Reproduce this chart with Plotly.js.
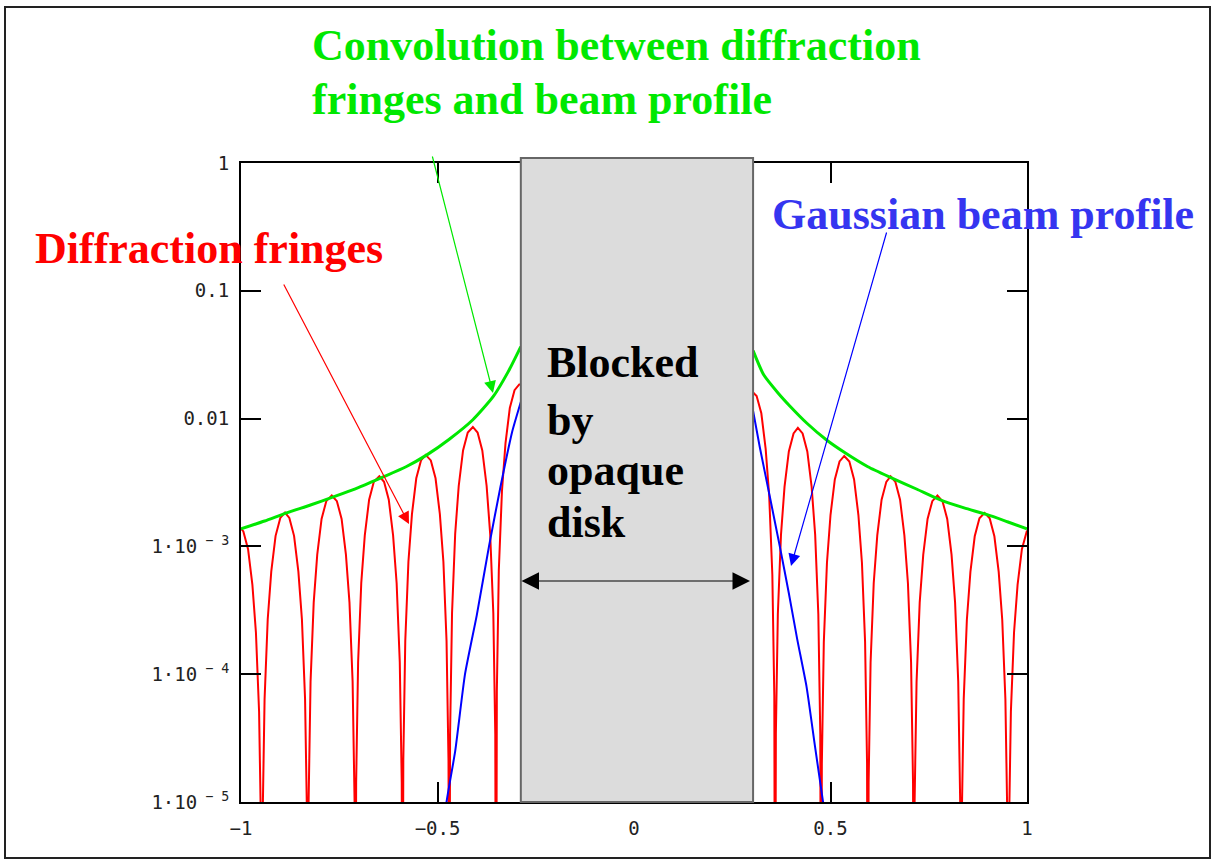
<!DOCTYPE html>
<html>
<head>
<meta charset="utf-8">
<script src="https://cdn.plot.ly/plotly-3.0.1.min.js"></script>
<style>html,body{margin:0;padding:0;background:#fff;}#chart{width:1214px;height:862px;}</style>
</head>
<body>
<div id="chart"></div>
<script>
// ---- data ----
const fringeLeftX = [
  -1.000, -0.994, -0.982, -0.971, -0.962, -0.954, -0.949,
  -0.947, -0.945, -0.940, -0.932, -0.923, -0.912, -0.900, -0.888, -0.877, -0.865, -0.854, -0.845, -0.837, -0.832,
  -0.830, -0.828, -0.823, -0.815, -0.806, -0.795, -0.783, -0.769, -0.756, -0.744, -0.733, -0.724, -0.716, -0.711,
  -0.709, -0.707, -0.702, -0.694, -0.685, -0.674, -0.662, -0.648, -0.636, -0.624, -0.613, -0.604, -0.596, -0.591,
  -0.589, -0.587, -0.582, -0.574, -0.565, -0.554, -0.542, -0.530, -0.517, -0.505, -0.494, -0.485, -0.477, -0.472,
  -0.470, -0.468, -0.463, -0.455, -0.446, -0.435, -0.423, -0.410, -0.398, -0.386, -0.375, -0.366, -0.358, -0.353,
  -0.351, -0.349, -0.344, -0.336, -0.327, -0.316, -0.304, -0.292, -0.288
];
const fringeLeftY = [
  1.38e-3, 1.31e-3, 9.5e-4, 5.0e-4, 2.12e-4, 5.1e-5, 5.8e-6,
  1e-7, 7.4e-6, 6.4e-5, 2.69e-4, 6.35e-4, 1.21e-3, 1.67e-3, 1.84e-3, 1.67e-3, 1.21e-3, 6.35e-4, 2.69e-4, 6.4e-5, 7.4e-6,
  1e-7, 1.0e-5, 8.75e-5, 3.65e-4, 8.63e-4, 1.64e-3, 2.26e-3, 2.5e-3, 2.26e-3, 1.64e-3, 8.63e-4, 3.65e-4, 8.75e-5, 1.0e-5,
  1e-7, 1.42e-5, 1.24e-4, 5.17e-4, 1.22e-3, 2.32e-3, 3.2e-3, 3.54e-3, 3.2e-3, 2.32e-3, 1.22e-3, 5.17e-4, 1.24e-4, 1.42e-5,
  1e-7, 2.1e-5, 1.82e-4, 7.59e-4, 1.79e-3, 3.41e-3, 4.71e-3, 5.2e-3, 4.71e-3, 3.41e-3, 1.79e-3, 7.59e-4, 1.82e-4, 2.1e-5,
  1e-7, 3.4e-5, 3.01e-4, 1.26e-3, 2.97e-3, 5.63e-3, 7.78e-3, 8.6e-3, 7.78e-3, 5.63e-3, 2.97e-3, 1.26e-3, 3.01e-4, 3.4e-5,
  1e-7, 7.4e-5, 6.5e-4, 2.7e-3, 6.4e-3, 1.21e-2, 1.67e-2, 1.85e-2, 1.85e-2
];
const fringeRightX = [
  0.303, 0.312, 0.324, 0.335, 0.344, 0.352, 0.357,
  0.359, 0.361, 0.366, 0.374, 0.383, 0.394, 0.406, 0.417, 0.429, 0.441, 0.452, 0.461, 0.469, 0.474,
  0.476, 0.478, 0.483, 0.491, 0.500, 0.511, 0.523, 0.535, 0.548, 0.560, 0.571, 0.580, 0.588, 0.593,
  0.595, 0.597, 0.602, 0.610, 0.619, 0.630, 0.642, 0.653, 0.665, 0.677, 0.688, 0.697, 0.705, 0.710,
  0.712, 0.714, 0.719, 0.727, 0.736, 0.747, 0.759, 0.772, 0.785, 0.797, 0.808, 0.817, 0.825, 0.830,
  0.832, 0.834, 0.839, 0.847, 0.856, 0.867, 0.879, 0.892, 0.905, 0.917, 0.928, 0.937, 0.945, 0.950,
  0.952, 0.954, 0.959, 0.967, 0.976, 0.987, 0.999, 1.000
];
const fringeRightY = [
  1.6e-2, 1.5e-2, 1.1e-2, 5.8e-3, 2.5e-3, 6.0e-4, 6.8e-5,
  1e-7, 3.4e-5, 2.96e-4, 1.23e-3, 2.92e-3, 5.53e-3, 7.65e-3, 8.45e-3, 7.65e-3, 5.53e-3, 2.92e-3, 1.23e-3, 2.96e-4, 3.4e-5,
  1e-7, 2.0e-5, 1.79e-4, 7.45e-4, 1.76e-3, 3.34e-3, 4.62e-3, 5.1e-3, 4.62e-3, 3.34e-3, 1.76e-3, 7.45e-4, 1.79e-4, 2.0e-5,
  1e-7, 1.42e-5, 1.24e-4, 5.17e-4, 1.22e-3, 2.32e-3, 3.2e-3, 3.54e-3, 3.2e-3, 2.32e-3, 1.22e-3, 5.17e-4, 1.24e-4, 1.42e-5,
  1e-7, 1.0e-5, 8.75e-5, 3.65e-4, 8.63e-4, 1.64e-3, 2.26e-3, 2.5e-3, 2.26e-3, 1.64e-3, 8.63e-4, 3.65e-4, 8.75e-5, 1.0e-5,
  1e-7, 7.3e-6, 6.4e-5, 2.67e-4, 6.31e-4, 1.2e-3, 1.66e-3, 1.83e-3, 1.66e-3, 1.2e-3, 6.31e-4, 2.67e-4, 6.4e-5, 7.3e-6,
  1e-7, 5.8e-6, 5.1e-5, 2.12e-4, 5.0e-4, 9.5e-4, 1.31e-3, 1.33e-3
];
const convLeftX = [-1.0, -0.94, -0.884, -0.825, -0.765, -0.70, -0.638, -0.58, -0.527, -0.47, -0.41, -0.358, -0.32, -0.288];
const convLeftY = [1.37e-3, 1.58e-3, 1.83e-3, 2.1e-3, 2.44e-3, 2.9e-3, 3.5e-3, 4.2e-3, 5.2e-3, 6.9e-3, 9.8e-3, 1.49e-2, 2.33e-2, 3.66e-2];
const convRightX = [0.303, 0.33, 0.367, 0.397, 0.44, 0.49, 0.537, 0.595, 0.655, 0.72, 0.781, 0.84, 0.897, 0.95, 1.0];
const convRightY = [3.4e-2, 2.2e-2, 1.58e-2, 1.25e-2, 9.2e-3, 6.8e-3, 5.4e-3, 4.2e-3, 3.44e-3, 2.8e-3, 2.3e-3, 2.0e-3, 1.78e-3, 1.56e-3, 1.37e-3];
const gaussLeftX = [-0.288, -0.31, -0.34, -0.369, -0.40, -0.43, -0.455, -0.477, -0.49];
const gaussLeftY = [1.35e-2, 7.9e-3, 2.9e-3, 1.0e-3, 2.9e-4, 1.0e-4, 2.5e-5, 1.0e-5, 4e-6];
const gaussRightX = [0.303, 0.32, 0.345, 0.371, 0.394, 0.415, 0.439, 0.46, 0.481, 0.495];
const gaussRightY = [1.15e-2, 6.0e-3, 2.5e-3, 1.0e-3, 4.3e-4, 1.9e-4, 8.0e-5, 2.8e-5, 1.0e-5, 5e-6];
const blockedRange = [-0.288, 0.303];
const xTickVals = [-1, -0.5, 0, 0.5, 1];
const xTickText = ['\u22121', '\u22120.5', '0', '0.5', '1'];
const yTickVals = [1, 0.1, 0.01, 1e-3, 1e-4, 1e-5];
const yTickText = ['1', '0.1', '0.01', '1\u00b710<sup> \u2212 3</sup>', '1\u00b710<sup> \u2212 4</sup>', '1\u00b710<sup> \u2212 5</sup>'];

// ---- layout helpers (pixel -> paper) ----
const L = 241, R = 1027, T = 163, B = 802;
const px = x => (x - L) / (R - L);
const py = y => (B - y) / (B - T);

const serif = 'Liberation Serif, Times New Roman, serif';
const tickFont = {family: 'DejaVu Sans Mono, monospace', size: 19, color: '#222'};
const RED = '#ff0000', GREEN = '#00e800', BLUE = '#0000ff';

const traces = [
  {x: fringeLeftX, y: fringeLeftY, mode: 'lines', line: {color: RED, width: 2}, hoverinfo: 'skip'},
  {x: fringeRightX, y: fringeRightY, mode: 'lines', line: {color: RED, width: 2}, hoverinfo: 'skip'},
  {x: gaussLeftX, y: gaussLeftY, mode: 'lines', line: {color: BLUE, width: 2, shape: 'spline', smoothing: 0.5}, hoverinfo: 'skip'},
  {x: gaussRightX, y: gaussRightY, mode: 'lines', line: {color: BLUE, width: 2, shape: 'spline', smoothing: 0.5}, hoverinfo: 'skip'},
  {x: convLeftX, y: convLeftY, mode: 'lines', line: {color: GREEN, width: 3, shape: 'spline', smoothing: 0.6}, hoverinfo: 'skip'},
  {x: convRightX, y: convRightY, mode: 'lines', line: {color: GREEN, width: 3, shape: 'spline', smoothing: 0.6}, hoverinfo: 'skip'}
];

function label(text, xpx, ypx, color, size) {
  return {text: text, xref: 'paper', yref: 'paper', x: px(xpx), y: py(ypx),
    xanchor: 'left', yanchor: 'middle', showarrow: false,
    font: {family: serif, size: size || 44, color: color, weight: 'bold'}};
}
function arrow(hx, hy, tx, ty, color, opts) {
  return Object.assign({text: '', xref: 'paper', yref: 'paper', x: px(hx), y: py(hy),
    ax: tx - hx, ay: ty - hy, showarrow: true, arrowcolor: color,
    arrowwidth: 1.2, arrowhead: 2, arrowsize: 2, standoff: 0, startstandoff: 0}, opts || {});
}

const layout = {
  width: 1214, height: 862,
  margin: {l: L, r: 1214 - R, t: T, b: 862 - B, pad: 0},
  paper_bgcolor: '#ffffff', plot_bgcolor: '#ffffff',
  showlegend: false,
  xaxis: {range: [-1, 1], tickvals: xTickVals, ticktext: xTickText,
    ticks: 'inside', ticklen: 20, tickwidth: 2, tickcolor: '#000',
    showline: true, linecolor: '#000', linewidth: 2, mirror: 'ticks',
    showgrid: false, zeroline: false, ticklabelstandoff: 8,
    tickfont: tickFont},
  yaxis: {type: 'log', range: [-5, 0], tickvals: yTickVals, ticktext: yTickText,
    ticks: 'inside', ticklen: 20, tickwidth: 2, tickcolor: '#000',
    showline: true, linecolor: '#000', linewidth: 2, mirror: 'ticks',
    showgrid: false, zeroline: false, ticklabelstandoff: 6,
    tickfont: tickFont},
  shapes: [
    {type: 'rect', xref: 'x', yref: 'paper', x0: blockedRange[0], x1: blockedRange[1], y0: 0, y1: py(158),
      fillcolor: '#dcdcdc', line: {color: '#666', width: 2}, layer: 'above'},
    {type: 'rect', xref: 'paper', yref: 'paper', x0: px(5), x1: px(1210), y0: py(858), y1: py(7),
      line: {color: '#222', width: 2}, fillcolor: 'rgba(0,0,0,0)', layer: 'above'}
  ],
  annotations: [
    label('Convolution between diffraction', 310, 45, GREEN),
    label('fringes and beam profile', 310, 100, GREEN),
    label('Diffraction fringes', 33, 248, RED),
    label('Gaussian beam profile', 770, 215, '#3535f0'),
    label('Blocked', 545, 362, '#000'),
    label('by', 545, 420, '#000'),
    label('opaque', 545, 470, '#000'),
    label('disk', 545, 522, '#000'),
    arrow(493, 393, 432, 155, GREEN),
    arrow(409, 524, 283, 283, RED),
    arrow(791, 566, 887, 231, BLUE),
    arrow(750, 581, 520, 581, '#000', {arrowside: 'end+start', arrowwidth: 1, arrowsize: 3.5, arrowhead: 2})
  ]
};

Plotly.newPlot('chart', traces, layout, {staticPlot: true, displayModeBar: false});
</script>
</body>
</html>
